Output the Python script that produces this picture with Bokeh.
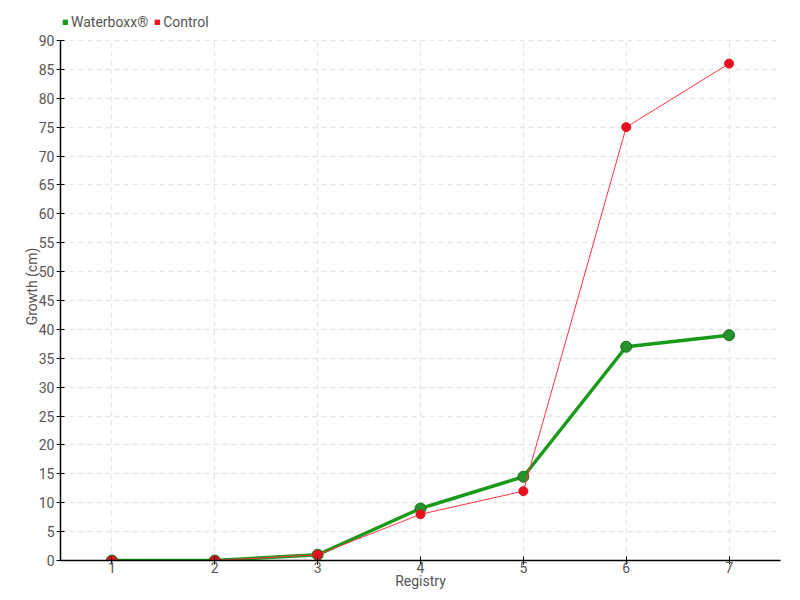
from bokeh.plotting import figure
from bokeh.models import Legend, LegendItem, FixedTicker, Range1d
from bokeh.embed import file_html
from bokeh.resources import INLINE

registry = [1, 2, 3, 4, 5, 6, 7]
waterboxx = [0, 0, 1, 9, 14.5, 37, 39]
control = [0, 0, 1, 8, 12, 75, 86]
y_ticks = list(range(0, 95, 5))

FONT = "Roboto"
GRAY = "#555555"

# frame top extended above 90 to hold the legend
Y_MAX = 90 + 28 / 520 * 90

p = figure(width=800, height=600, output_backend="svg", toolbar_location=None,
           x_range=Range1d(0.5, 7.5), y_range=Range1d(0, Y_MAX),
           min_border_left=60, min_border_right=20, min_border_top=12, min_border_bottom=40)
p.outline_line_color = None

for ax in (p.xaxis[0], p.yaxis[0]):
    ax.axis_line_color = "black"
    ax.axis_line_width = 1.5
    ax.major_tick_line_color = "black"
    ax.major_tick_in = 4
    ax.major_tick_out = 4
    ax.minor_tick_line_color = None
    ax.major_label_text_font = FONT
    ax.major_label_text_font_size = "14px"
    ax.major_label_text_color = GRAY
    ax.axis_label_text_font = FONT
    ax.axis_label_text_font_size = "14px"
    ax.axis_label_text_color = GRAY
    ax.axis_label_text_font_style = "normal"

p.yaxis.bounds = (0, 90)
p.xaxis.ticker = FixedTicker(ticks=registry)
p.yaxis.ticker = FixedTicker(ticks=y_ticks)
p.xaxis.axis_label = "Registry"
p.yaxis.axis_label = "Growth (cm)"
p.xaxis.axis_label_standoff = -3
p.yaxis.axis_label_standoff = -4
p.xaxis.major_label_standoff = -3
p.yaxis.major_label_standoff = 2

for g in (p.xgrid[0], p.ygrid[0]):
    g.grid_line_color = "#e6e6e6"
    g.grid_line_dash = "5 4"
    g.grid_line_width = 1.3
p.xgrid[0].cross_bounds = (0, 90)
p.ygrid[0].bounds = (0, 90)

gl = p.line(registry, waterboxx, line_color="#1a9a1a", line_width=3.5)
gc = p.scatter(registry, waterboxx, size=11, fill_color="#23942a", line_color="#1a6e1a", line_width=1)
rl = p.line(registry, control, line_color="#ff3344", line_width=1)
rc = p.scatter(registry, control, size=9, fill_color="#e8101e", line_color="#e8101e", line_width=1)

gsq = p.rect([None], [None], width=1, height=1, fill_color="#1a9a1a", line_color="#1a9a1a")
rsq = p.rect([None], [None], width=1, height=1, fill_color="#e8101e", line_color="#e8101e")

legend = Legend(items=[LegendItem(label="Waterboxx®", renderers=[gsq]),
                       LegendItem(label="Control", renderers=[rsq])],
                orientation="horizontal", location="top_left",
                background_fill_alpha=0, border_line_color=None,
                label_text_font=FONT, label_text_font_size="14px", label_text_color=GRAY,
                glyph_width=6, glyph_height=6, spacing=6, label_standoff=3,
                padding=0, margin=2, label_height=14)
p.add_layout(legend, "center")

open("out.html", "w").write(file_html(p, INLINE))
